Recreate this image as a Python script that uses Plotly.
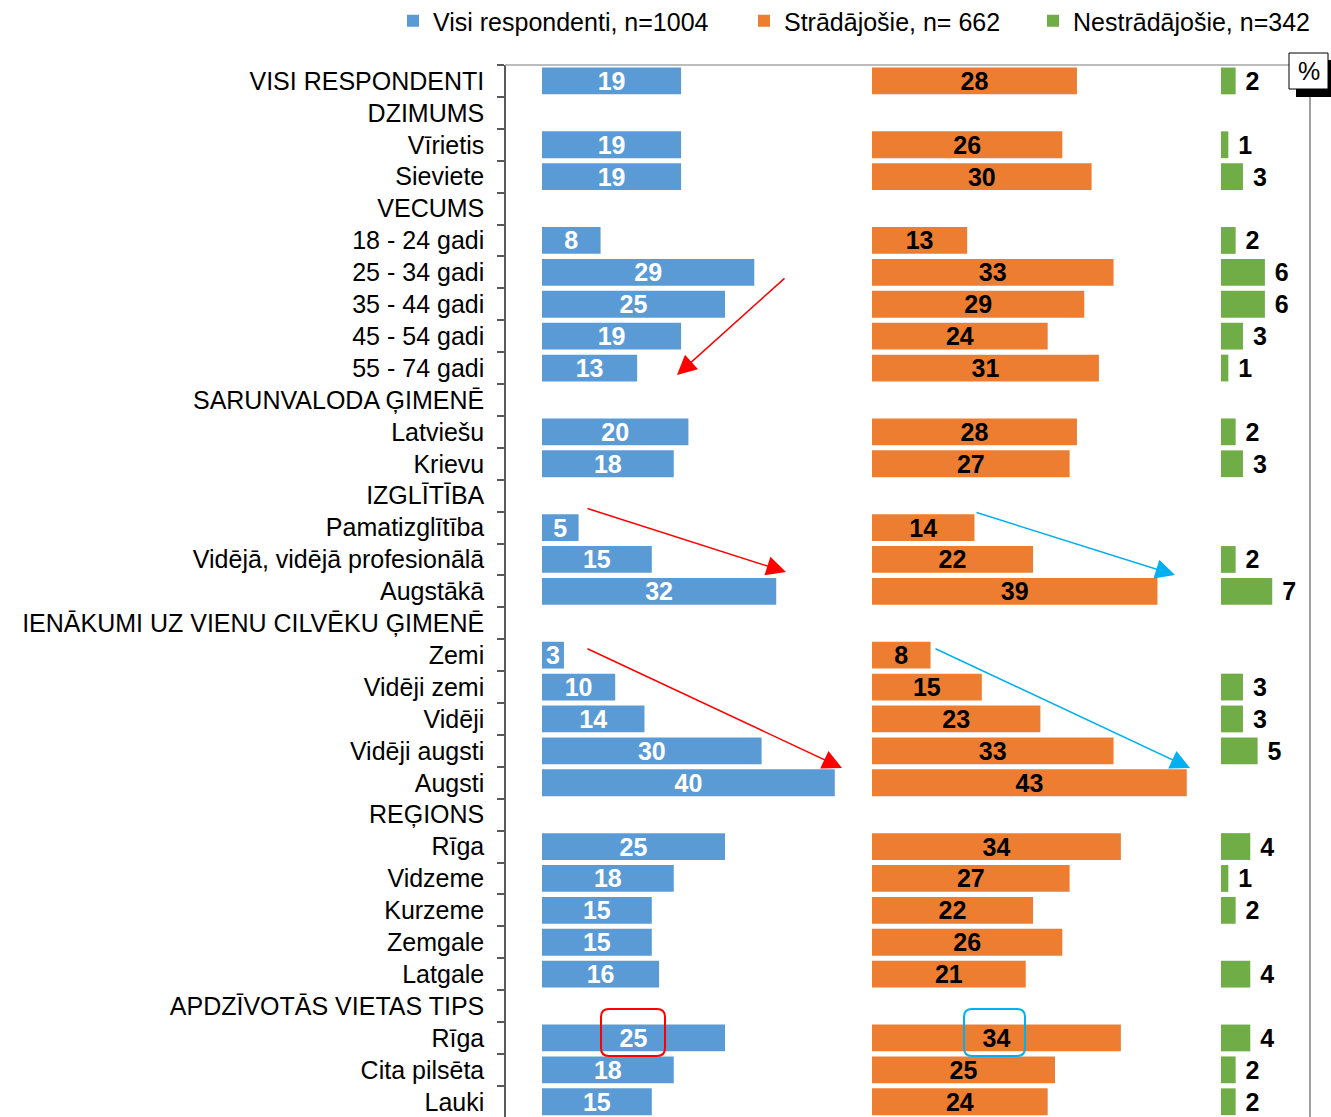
import plotly.graph_objects as go

# ---------------- data ----------------
categories = ["VISI RESPONDENTI", "DZIMUMS", "Vīrietis", "Sieviete", "VECUMS",
              "18 - 24 gadi", "25 - 34 gadi", "35 - 44 gadi", "45 - 54 gadi", "55 - 74 gadi",
              "SARUNVALODA ĢIMENĒ", "Latviešu", "Krievu", "IZGLĪTĪBA", "Pamatizglītība",
              "Vidējā, vidējā profesionālā", "Augstākā", "IENĀKUMI UZ VIENU CILVĒKU ĢIMENĒ",
              "Zemi", "Vidēji zemi", "Vidēji", "Vidēji augsti", "Augsti", "REĢIONS",
              "Rīga", "Vidzeme", "Kurzeme", "Zemgale", "Latgale", "APDZĪVOTĀS VIETAS TIPS",
              "Rīga", "Cita pilsēta", "Lauki"]

visi = [19, None, 19, 19, None, 8, 29, 25, 19, 13, None, 20, 18, None, 5, 15, 32, None,
        3, 10, 14, 30, 40, None, 25, 18, 15, 15, 16, None, 25, 18, 15]
stradajosie = [28, None, 26, 30, None, 13, 33, 29, 24, 31, None, 28, 27, None, 14, 22, 39, None,
               8, 15, 23, 33, 43, None, 34, 27, 22, 26, 21, None, 34, 25, 24]
nestradajosie = [2, None, 1, 3, None, 2, 6, 6, 3, 1, None, 2, 3, None, None, 2, 7, None,
                 None, 3, 3, 5, None, None, 4, 1, 2, None, 4, None, 4, 2, 2]

series_names = ["Visi respondenti, n=1004", "Strādājošie, n= 662", "Nestrādājošie, n=342"]
colors = ["#5B9BD5", "#ED7D31", "#70AD47"]

# ---------------- layout geometry (pixels) ----------------
W, H = 1331, 1117
L, R, T, B = 505, 21, 65, 0
PW, PH = W - L - R, H - T - B
PXU = 7.32      # pixels per percent
ROW = 31.9      # pixels per category row
FONT = "Liberation Sans, Arial, sans-serif"
FS = 25


def px2x(px):
    return (px - L) / PW


def px2y(py):
    return 1 - (py - T) / PH


def dom(p0, p1):
    return [px2x(p0), px2x(p1)]


# unique category keys (duplicate "Rīga")
keys = []
for i, c in enumerate(categories):
    keys.append(c + "\u200b" * categories[:i].count(c))

fig = go.Figure()

panels = [(visi, "x", (542, 862), "white"),
          (stradajosie, "x2", (872, 1212), "black"),
          (nestradajosie, "x3", (1221, 1310), "black")]

for (vals, xa, (p0, p1), tcol), name, col in zip(panels, series_names, colors):
    inside = xa != "x3"
    prefix = "" if inside else "\u00a0"
    fig.add_trace(go.Bar(
        x=vals, y=keys, orientation="h", name=name, xaxis=xa, yaxis="y",
        marker=dict(color=col, line=dict(width=0)),
        width=0.84,
        text=[("" if v is None else prefix + str(v)) for v in vals],
        textposition="inside" if inside else "outside",
        insidetextanchor="middle",
        textangle=0,
        textfont=dict(family=FONT, size=FS, color=tcol, weight="bold"),
        cliponaxis=False,
        hoverinfo="skip",
    ))

layout_axes = {}
for vals, xa, (p0, p1), tcol in panels:
    name = "xaxis" if xa == "x" else "xaxis" + xa[1:]
    layout_axes[name] = dict(domain=dom(p0, p1), range=[0, (p1 - p0) / PXU],
                             anchor="y", visible=False, fixedrange=True)

fig.update_layout(**layout_axes)

fig.update_layout(
    width=W, height=H,
    margin=dict(l=L, r=R, t=T, b=B, pad=0, autoexpand=False),
    paper_bgcolor="white", plot_bgcolor="white",
    font=dict(family=FONT, size=FS, color="black"),
    barmode="overlay",
    uniformtext=dict(minsize=FS, mode="show"),
    yaxis=dict(type="category", categoryorder="array", categoryarray=keys,
               range=[-0.5 + PH / ROW, -0.5], automargin=False,
               anchor="free", position=0,
               showline=True, linecolor="#595959", linewidth=1.5,
               ticks="outside", ticklen=7, tickcolor="#595959", tickwidth=1.5,
               tickson="boundaries", ticklabelstandoff=15,
               tickfont=dict(family=FONT, size=FS, color="black"),
               showgrid=False, zeroline=False, fixedrange=True),
    showlegend=True,
    legend=dict(orientation="h", x=px2x(393), xanchor="left",
                y=px2y(21), yanchor="middle",
                font=dict(family=FONT, size=FS, color="black"),
                bgcolor="rgba(0,0,0,0)", itemclick=False, itemdoubleclick=False,
                traceorder="normal"),
)

# legend item widths to spread entries like the original
fig.data[0].legendwidth = 306
fig.data[1].legendwidth = 244

shapes = []
# frame: top and right lines
shapes.append(dict(type="line", xref="paper", yref="paper",
                   x0=0, x1=px2x(1310), y0=1, y1=1,
                   line=dict(color="#A6A6A6", width=1.5), layer="above"))
shapes.append(dict(type="line", xref="paper", yref="paper",
                   x0=px2x(1310), x1=px2x(1310), y0=1, y1=0,
                   line=dict(color="#808080", width=1.5), layer="above"))
# % box with shadow
shapes.append(dict(type="rect", xref="paper", yref="paper",
                   x0=px2x(1296), x1=px2x(1332), y0=px2y(60), y1=px2y(97),
                   fillcolor="black", line=dict(width=0), layer="above"))
shapes.append(dict(type="rect", xref="paper", yref="paper",
                   x0=px2x(1289), x1=px2x(1328), y0=px2y(53), y1=px2y(89),
                   fillcolor="white", line=dict(color="black", width=1), layer="above"))


def rounded(px0, py0, px1, py1, r, color):
    x0, x1 = px2x(px0), px2x(px1)
    y0, y1 = px2y(py0), px2y(py1)
    rx, ry = r / PW, r / PH
    path = (f"M{x0 + rx},{y0} L{x1 - rx},{y0} Q{x1},{y0} {x1},{y0 - ry} "
            f"L{x1},{y1 + ry} Q{x1},{y1} {x1 - rx},{y1} L{x0 + rx},{y1} "
            f"Q{x0},{y1} {x0},{y1 + ry} L{x0},{y0 - ry} Q{x0},{y0} {x0 + rx},{y0} Z")
    return dict(type="path", xref="paper", yref="paper", path=path,
                line=dict(color=color, width=2), layer="above")


shapes.append(rounded(601, 1009, 665, 1056, 8, "#FF0000"))
shapes.append(rounded(964, 1009, 1025, 1056, 8, "#00B0F0"))
fig.update_layout(shapes=shapes)

annotations = [dict(text="%", xref="paper", yref="paper", x=px2x(1308.5), y=px2y(71),
                    showarrow=False, font=dict(family=FONT, size=FS, color="black"),
                    xanchor="center", yanchor="middle")]

arrows = [((786, 277), (677, 375), "#FF0000"),
          ((586, 508), (786, 572), "#FF0000"),
          ((586, 648), (842, 768), "#FF0000"),
          ((975, 512), (1175, 575), "#00B0F0"),
          ((934, 648), (1190, 768), "#00B0F0")]
for (tx, ty), (hx, hy), c in arrows:
    annotations.append(dict(x=px2x(hx), y=px2y(hy), xref="paper", yref="paper",
                            ax=tx - hx, ay=ty - hy, axref="pixel", ayref="pixel",
                            text="", showarrow=True, arrowhead=2, arrowsize=2.6,
                            arrowwidth=1.5, arrowcolor=c, standoff=0))
fig.update_layout(annotations=annotations)

fig.write_html("out.html", config={"displayModeBar": False},
               post_script="document.body.style.margin='0';")
